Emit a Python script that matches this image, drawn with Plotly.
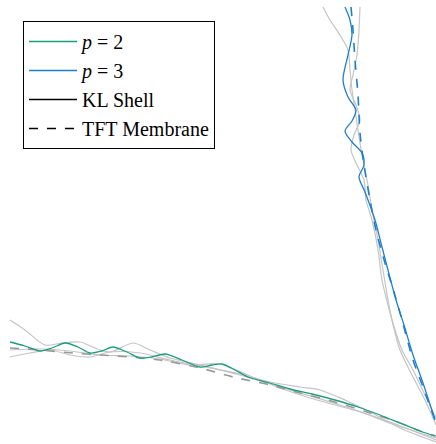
import plotly.graph_objects as go

# Deformed shell profiles (screen-like units: x right, y down)
# p = 2 (horizontal arm)
p2_x = [10, 25, 40, 52, 65, 78, 90, 102, 113, 127, 140, 152, 165, 182, 200, 212, 222, 235, 248, 270, 290, 312, 335, 358, 380, 400, 420, 435]
p2_y = [342, 346, 351, 348, 343, 347, 353, 351, 347, 352, 358, 357, 354, 360, 367, 365, 364, 370, 377, 383, 389, 394, 400, 407, 415, 423, 431, 436]

# p = 3 (vertical arm)
p3_x = [345, 350, 352, 348, 343, 348, 356, 352, 345, 352, 362, 364, 359, 365, 375, 382, 388, 396, 404, 413, 423, 435]
p3_y = [7, 20, 35, 55, 80, 97, 110, 121, 131, 142, 153, 165, 177, 192, 220, 247, 270, 300, 325, 355, 383, 420]

# TFT membrane reference (dashed)
tft_h_x = [10, 40, 73, 100, 130, 160, 200, 233, 270, 300, 335, 367, 395, 417, 436]
tft_h_y = [348, 350, 353, 355, 357, 360, 368, 377, 385, 393, 402, 412, 421, 430, 436]
tft_v_x = [351, 353, 355, 358, 360, 364, 370, 376, 385, 394, 402, 413, 423, 435]
tft_v_y = [7, 30, 60, 95, 133, 165, 200, 230, 263, 292, 320, 360, 387, 420]

# KL shell / other solutions (light gray)
g1_x = [10, 25, 45, 62, 80, 95, 110, 133, 150, 170, 200, 240, 290, 340, 390, 436]
g1_y = [320, 330, 345, 343, 342, 348, 352, 343, 350, 358, 365, 375, 390, 405, 422, 440]
g2_x = [10, 30, 50, 70, 90, 110, 140, 170, 200, 240, 270, 300, 320, 345, 370, 400, 436]
g2_y = [357, 353, 350, 355, 357, 352, 353, 360, 366, 374, 382, 387, 390, 400, 412, 428, 442]
g3_x = [10, 40, 70, 100, 130, 160, 190, 220, 250, 280, 310, 335, 360, 390, 420, 436]
g3_y = [350, 349, 351, 355, 356, 359, 365, 364, 376, 388, 398, 405, 412, 423, 433, 438]
g4_x = [323, 330, 340, 348, 350, 352, 355, 358, 362, 368, 372, 378, 383, 388, 392, 400, 412, 425, 436]
g4_y = [7, 20, 35, 50, 70, 90, 110, 130, 155, 185, 210, 240, 270, 300, 320, 350, 375, 400, 425]
g5_x = [360, 359, 357, 353, 350, 356, 360, 354, 351, 357, 364, 366, 372, 378, 382, 388, 395, 402, 413, 425, 436]
g5_y = [7, 30, 55, 75, 90, 105, 120, 135, 150, 165, 180, 200, 220, 250, 280, 305, 330, 350, 370, 395, 418]

legend_names = ["<i>p</i> = 2", "<i>p</i> = 3", "KL Shell", "TFT Membrane"]

GRAY = "#c4c4c4"
GREEN = "#1b9e7e"
BLUE = "#1f7fcf"

fig = go.Figure()
for gx, gy in [(g1_x, g1_y), (g2_x, g2_y), (g3_x, g3_y), (g4_x, g4_y), (g5_x, g5_y)]:
    fig.add_trace(go.Scatter(x=gx, y=gy, mode="lines",
                             line=dict(color=GRAY, width=1.2, shape="spline", smoothing=0.8),
                             showlegend=False, hoverinfo="skip"))
fig.add_trace(go.Scatter(x=tft_h_x, y=tft_h_y, mode="lines",
                         line=dict(color="#999999", width=1.6, dash="dash", shape="spline", smoothing=0.8),
                         showlegend=False))
fig.add_trace(go.Scatter(x=tft_v_x, y=tft_v_y, mode="lines",
                         line=dict(color=BLUE, width=1.6, dash="dash", shape="spline", smoothing=0.8),
                         showlegend=False))
fig.add_trace(go.Scatter(x=p2_x, y=p2_y, mode="lines",
                         line=dict(color=GREEN, width=1.3, shape="spline", smoothing=0.8),
                         showlegend=False))
fig.add_trace(go.Scatter(x=p3_x, y=p3_y, mode="lines",
                         line=dict(color=BLUE, width=1.3, shape="spline", smoothing=0.8),
                         showlegend=False))

# legend entries
legend_styles = [dict(color=GREEN, width=1.6), dict(color=BLUE, width=1.6),
                 dict(color="black", width=1.4), dict(color="black", width=1.4, dash="dash")]
for name, st in zip(legend_names, legend_styles):
    fig.add_trace(go.Scatter(x=[None], y=[None], mode="lines", name=name, line=st))

fig.update_layout(
    width=436, height=444,
    margin=dict(l=0, r=0, t=0, b=0),
    paper_bgcolor="white", plot_bgcolor="white",
    xaxis=dict(range=[0, 436], visible=False, fixedrange=True),
    yaxis=dict(range=[444, 0], visible=False, fixedrange=True),
    legend=dict(x=23 / 436, y=1 - 21 / 444, xanchor="left", yanchor="top",
                bordercolor="black", borderwidth=1, bgcolor="white",
                font=dict(family="Liberation Serif, serif", size=20, color="black"),
                tracegroupgap=0, itemwidth=48),
    showlegend=True,
)
fig.write_html("out.html", config={"displayModeBar": False},
               post_script="document.body.style.margin='0px';")
